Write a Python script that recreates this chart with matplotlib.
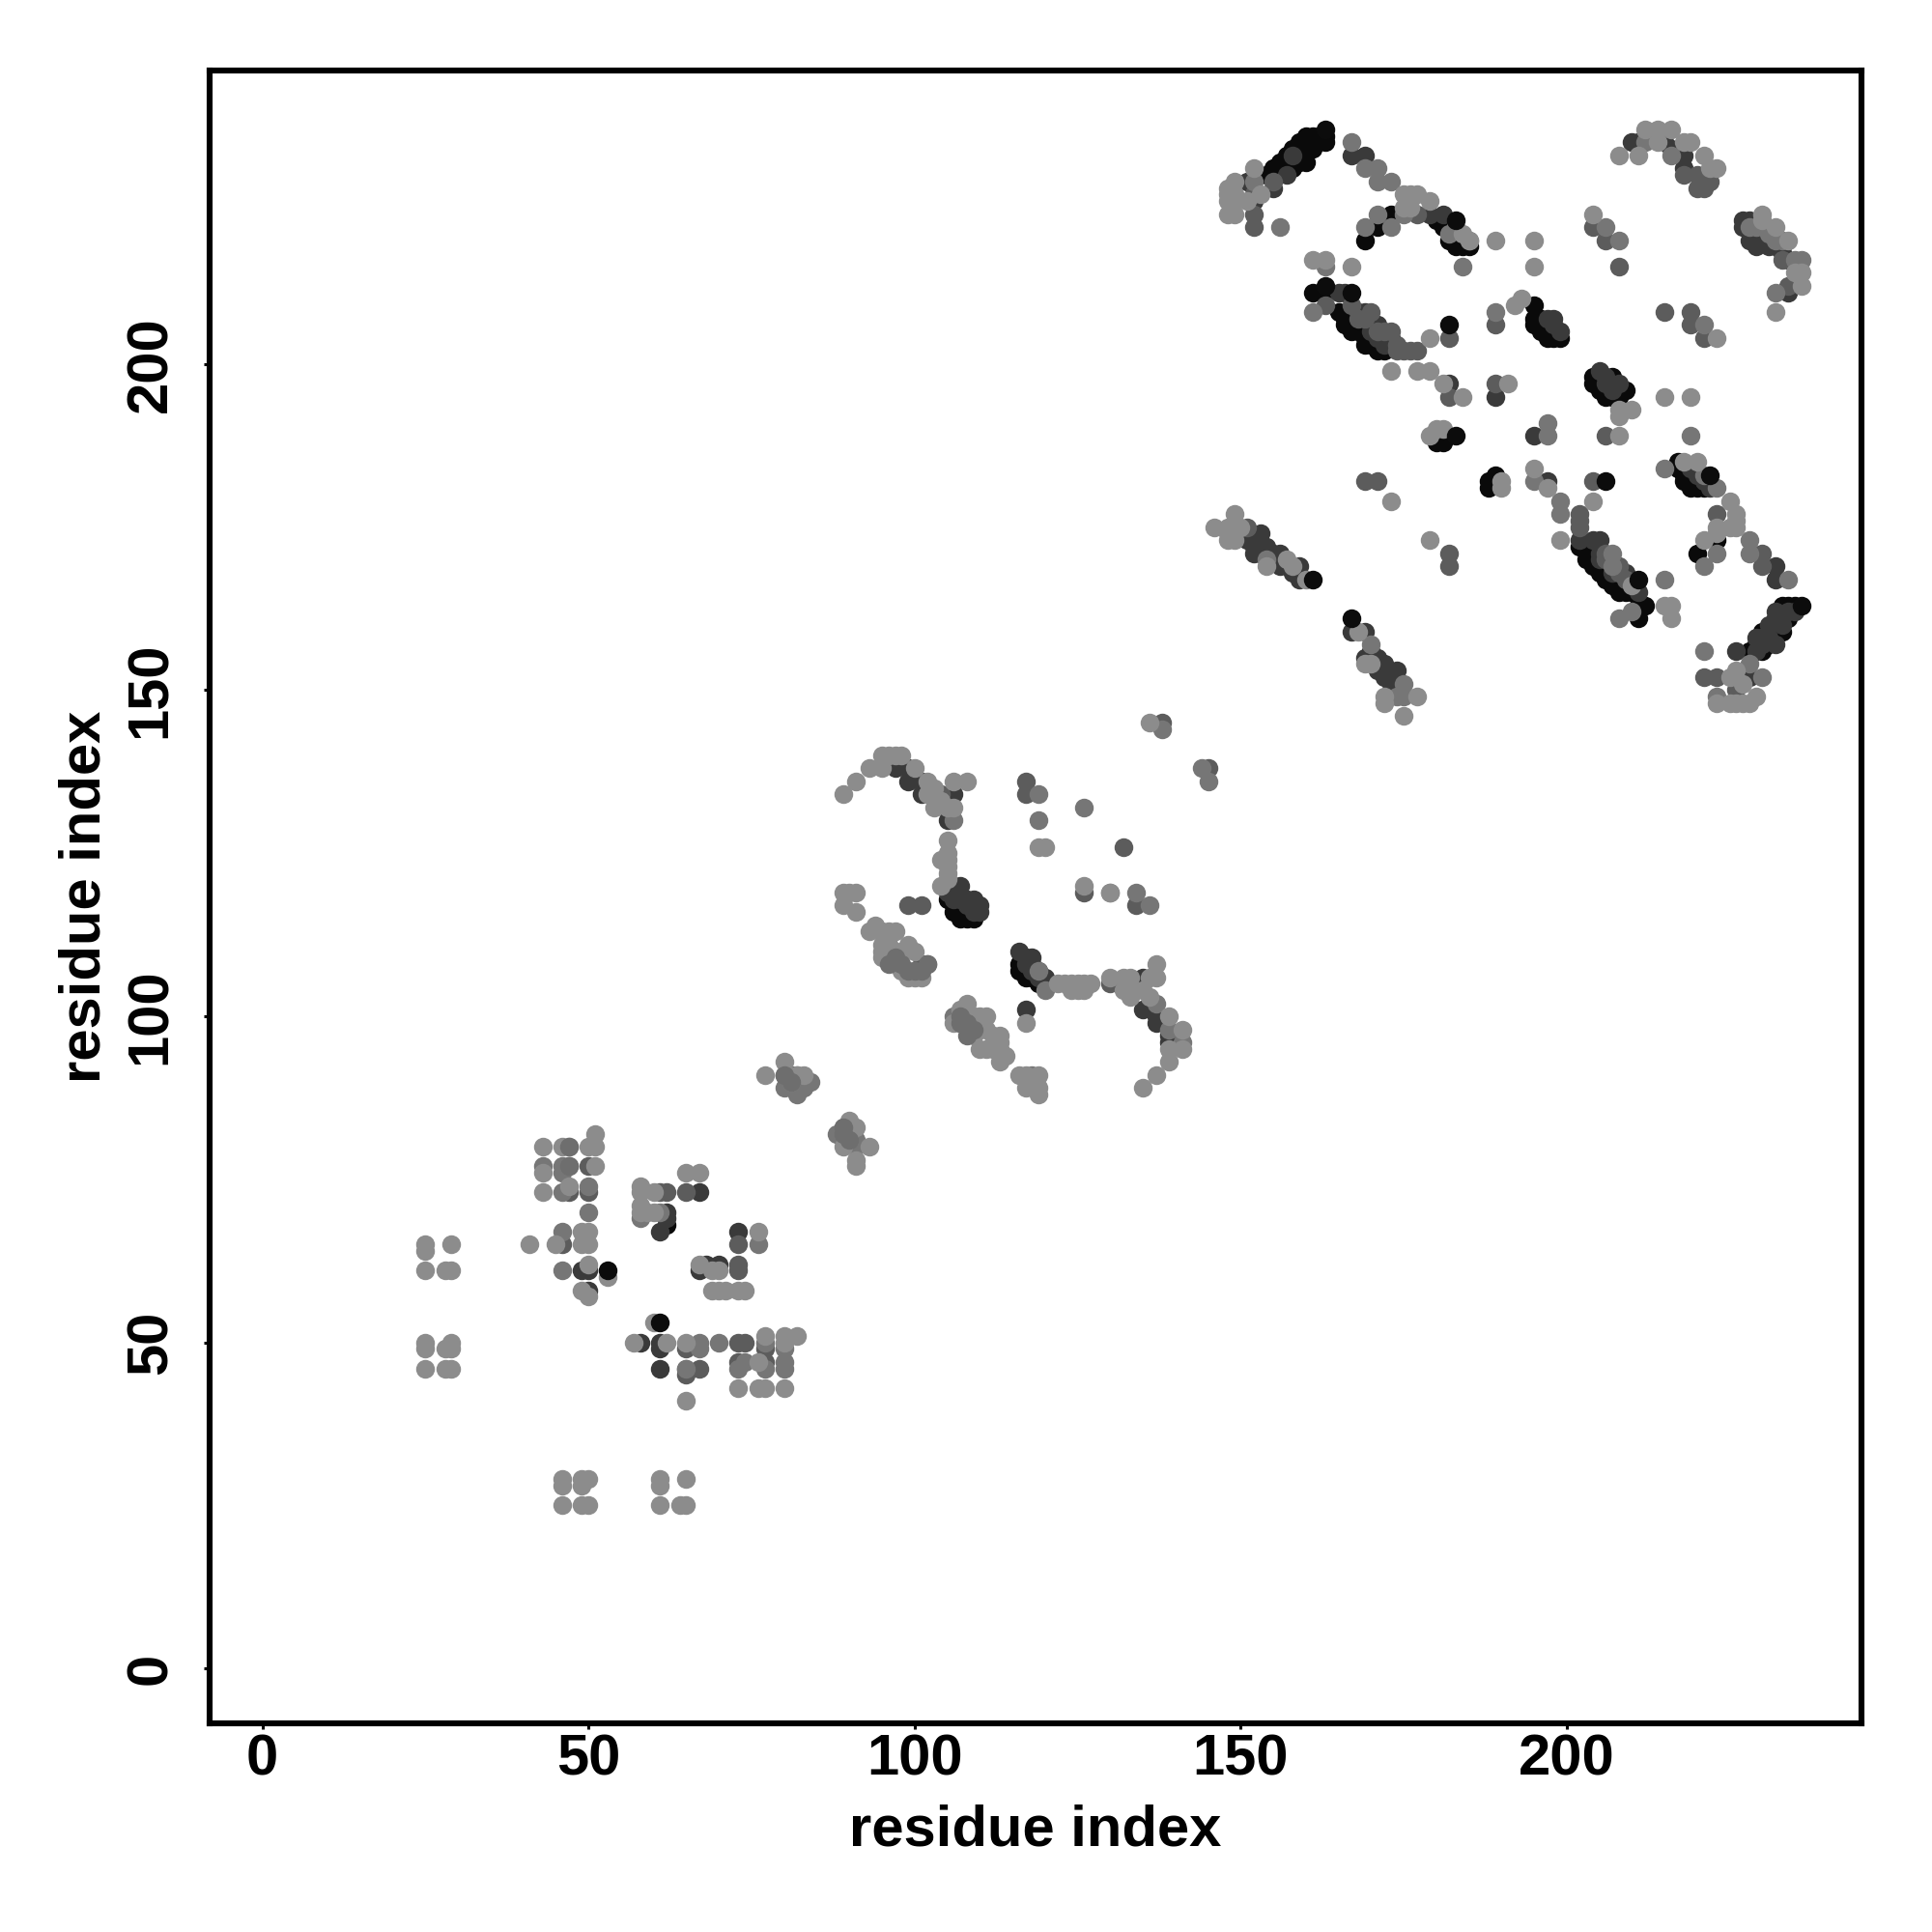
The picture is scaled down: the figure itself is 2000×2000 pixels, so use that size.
#!/usr/bin/env python3
"""Contact map of residue pairs, shaded by contact strength."""

import matplotlib
matplotlib.use("Agg")
import matplotlib.pyplot as plt

# (residue i, residue j), grouped by shade
black_under = [
    (62, 68), (160, 235), (161, 234), (161, 233), (160, 233), (155, 230), (158, 230), (159, 232), (160, 231),
    (163, 234), (163, 235), (158, 233), (157, 231), (156, 230), (157, 232), (159, 234), (162, 235), (162, 234),
    (156, 231), (154, 229), (158, 231), (159, 231), (161, 235),
    (180, 222), (181, 221), (182, 219), (184, 218), (185, 218), (183, 218),
    (171, 221), (169, 219), (173, 223),
    (161, 211), (163, 211), (166, 207), (168, 205), (170, 203), (172, 202), (167, 206), (169, 204), (171, 203),
    (165, 208), (167, 205), (169, 203), (171, 202), (166, 206),
    (195, 209), (195, 207), (195, 206), (196, 207), (197, 204), (198, 204), (197, 205), (196, 206), (196, 205),
    (197, 206), (199, 204),
    (204, 198), (204, 197), (206, 195), (207, 195), (209, 196), (207, 198), (205, 196), (205, 197), (206, 196),
    (208, 195),
    (180, 188), (181, 188), (188, 182), (188, 181), (189, 183),
    (217, 185), (217, 184), (218, 182), (220, 181), (223, 173), (220, 171), (219, 183), (221, 181), (218, 183),
    (219, 181), (220, 182),
    (202, 172), (203, 170), (205, 168), (207, 166), (208, 166), (204, 169), (206, 167), (209, 165), (204, 171),
    (206, 168), (208, 165), (210, 165),
    (211, 163), (212, 163), (211, 161), (233, 163), (235, 163), (234, 161), (232, 161), (231, 159),
    (229, 157), (228, 156), (232, 159), (233, 161), (230, 159), (233, 162), (234, 163), (233, 159), (231, 157),
    (230, 156),
    (106, 117), (106, 116), (107, 116), (108, 115), (109, 115), (105, 118), (107, 117), (108, 116), (106, 119),
    (107, 115),
    (116, 108), (118, 106), (119, 105), (117, 107), (117, 106), (116, 107),
]
dark = [
    (58, 50), (61, 50), (61, 49), (49, 61), (50, 61), (50, 58), (73, 67), (67, 73), (62, 70), (62, 69), (61, 67),
    (67, 61), (68, 62), (70, 62), (61, 46),
    (155, 227), (151, 228), (157, 229), (158, 232), (152, 225), (167, 232), (169, 232), (179, 223), (181, 223),
    (165, 211), (166, 211), (168, 208), (169, 208), (171, 206), (170, 206), (173, 204), (172, 203), (170, 205),
    (171, 204), (172, 204),
    (210, 234), (211, 234), (215, 234), (216, 233), (218, 232), (218, 230), (229, 218), (228, 219), (231, 219),
    (227, 221), (227, 222), (228, 222), (229, 220), (230, 220), (231, 218), (232, 218), (233, 218), (233, 217),
    (234, 216), (234, 211), (189, 195), (182, 197), (197, 207), (198, 206), (206, 197), (207, 196), (208, 197),
    (151, 173), (153, 174), (154, 172), (152, 171), (153, 171), (156, 171), (156, 169), (159, 169), (159, 167),
    (155, 171), (155, 170), (157, 169), (158, 168), (152, 172),
    (167, 159), (169, 159), (169, 155), (171, 155), (171, 153), (172, 154), (174, 153), (173, 151), (170, 156),
    (171, 154), (172, 152), (173, 152), (170, 155),
    (195, 189), (197, 182), (204, 173), (205, 173), (202, 173), (209, 168), (211, 165), (232, 169), (232, 167),
    (205, 171), (205, 170), (207, 168), (210, 167), (219, 184), (220, 183), (221, 182), (222, 181),
    (226, 156), (229, 158), (230, 157), (232, 157), (229, 156), (228, 152), (199, 205), (198, 207), (230, 158),
    (231, 158), (231, 160), (232, 162), (233, 160), (234, 162), (235, 162),
    (105, 119), (106, 118), (106, 120), (107, 120), (109, 118), (110, 116), (116, 110), (117, 109), (118, 109),
    (107, 118), (108, 118), (108, 117), (109, 116), (110, 117), (109, 117), (118, 108), (118, 107), (119, 106),
    (120, 106), (117, 108),
    (119, 107), (120, 105), (97, 138), (99, 138), (99, 136), (101, 136), (101, 134), (106, 134), (105, 130),
    (135, 106), (135, 101), (137, 100), (137, 99), (139, 97), (139, 96), (117, 101), (205, 199), (206, 198),
]
mid_dark = [
    (47, 77), (50, 77), (50, 73), (46, 65), (47, 73), (73, 62), (73, 61), (65, 73), (61, 73), (62, 73), (65, 46),
    (67, 46), (65, 49), (73, 50), (74, 50), (77, 49), (77, 47), (73, 47), (65, 45), (73, 65),
    (80, 91), (81, 91), (82, 90), (89, 83), (89, 81), (90, 82),
    (152, 223), (152, 221), (155, 228), (152, 226), (177, 223), (182, 204), (189, 206), (182, 195), (189, 197),
    (163, 209), (170, 208), (167, 209), (174, 202), (175, 202), (176, 202), (177, 202), (171, 205), (172, 205),
    (173, 205), (174, 203), (168, 207), (169, 207),
    (204, 221), (206, 219), (208, 215), (215, 208), (219, 208), (219, 206), (221, 204),
    (233, 216), (234, 212), (218, 229), (220, 229), (220, 227), (221, 227), (222, 228),
    (169, 182), (171, 182), (182, 171), (182, 169), (151, 175), (206, 189), (204, 182), (202, 177), (202, 176),
    (202, 175), (223, 177), (230, 171), (230, 169), (221, 152), (223, 152), (226, 150), (206, 171), (206, 170),
    (208, 168), (209, 167), (208, 169),
    (99, 117), (101, 117), (117, 136), (117, 134), (134, 117), (126, 119), (132, 126), (145, 138), (138, 145),
    (100, 107), (101, 108), (102, 108), (107, 99), (108, 100), (130, 105), (104, 134),
]
mid = [
    (46, 61), (46, 67), (73, 46), (74, 47), (77, 46), (80, 47), (80, 46), (70, 50), (77, 50), (80, 49), (61, 70),
    (46, 77), (46, 76), (43, 77), (46, 73), (50, 74), (50, 70), (58, 69), (76, 65), (67, 50), (67, 49), (65, 46),
    (82, 88), (83, 89), (84, 90), (82, 91), (88, 82), (91, 81), (91, 80), (80, 89),
    (119, 134), (119, 130), (126, 132), (130, 119), (136, 117), (134, 119), (144, 138), (145, 136), (138, 144),
    (167, 234), (169, 230), (171, 230), (171, 228), (173, 228), (175, 223), (184, 215), (185, 219), (183, 221),
    (182, 220), (171, 223), (169, 221), (173, 221), (161, 208), (189, 208), (156, 221), (152, 228), (163, 215),
    (206, 221), (208, 219), (221, 206), (216, 232), (212, 234), (232, 211), (235, 216), (236, 216), (228, 221),
    (229, 221), (231, 220), (232, 219), (233, 219),
    (154, 170), (175, 151), (174, 149), (175, 149), (170, 157), (197, 189), (195, 182), (199, 179), (199, 177),
    (207, 171), (207, 169), (210, 162), (208, 161), (215, 167), (219, 189), (215, 184), (221, 169), (223, 171),
    (221, 156), (228, 154), (230, 152), (223, 149), (228, 173), (228, 171), (234, 167), (221, 183), (223, 181),
    (197, 191), (120, 104), (119, 107), (137, 102), (139, 98), (141, 96), (118, 91), (106, 100), (106, 130),
]
light = [
    (46, 25), (49, 25), (50, 25), (46, 28), (49, 28), (46, 29), (49, 29), (50, 29),
    (61, 25), (64, 25), (65, 25), (61, 28), (61, 29), (65, 29),
    (25, 46), (28, 46), (29, 46), (25, 49), (28, 49), (29, 49), (25, 50), (29, 50),
    (25, 61), (28, 61), (29, 61), (25, 64), (25, 65), (29, 65),
    (41, 65), (45, 65), (49, 65), (50, 65), (49, 67), (50, 67), (50, 62), (49, 58), (50, 57), (53, 60),
    (43, 73), (47, 74), (43, 76), (43, 80), (46, 80), (47, 80), (50, 80), (51, 80), (51, 82), (51, 77),
    (58, 74), (58, 73), (58, 71), (58, 70), (59, 70), (60, 70), (60, 73), (65, 76), (67, 76), (76, 67),
    (67, 62), (69, 61), (70, 61), (69, 58), (70, 58), (71, 58), (73, 58), (74, 58), (60, 53), (57, 50), (62, 50),
    (65, 50), (77, 51), (80, 51), (80, 50), (82, 51), (76, 47), (73, 43), (76, 43), (77, 43), (80, 43), (65, 41),
    (77, 91), (80, 93), (81, 90), (82, 91), (83, 91), (90, 84), (91, 83), (90, 82), (93, 80), (91, 77), (91, 78),
    (89, 80), (89, 134), (91, 136), (93, 138), (95, 138), (95, 140), (96, 140), (97, 140), (98, 140), (100, 138),
    (102, 136), (102, 134), (103, 135), (104, 133), (103, 132), (105, 132), (106, 132), (106, 136), (108, 136),
    (105, 127), (105, 125), (105, 124), (105, 123), (105, 122), (105, 121), (104, 124), (104, 120),
    (89, 119), (90, 119), (91, 119), (89, 117), (91, 116), (93, 113), (94, 114), (95, 113), (96, 113), (97, 113),
    (95, 111), (95, 110), (95, 109), (96, 111), (97, 110), (98, 110), (99, 111), (100, 110), (97, 108), (98, 107),
    (99, 106), (100, 106), (101, 106), (108, 102), (106, 99), (107, 101), (109, 100), (110, 100), (111, 100),
    (110, 98), (111, 98), (112, 97), (113, 97), (113, 96), (113, 95), (110, 95), (111, 95), (112, 95), (114, 94),
    (113, 93), (109, 97), (116, 91), (117, 91), (119, 91), (117, 89), (119, 89), (119, 88), (117, 99), (119, 126),
    (120, 126), (126, 120), (122, 105), (123, 105), (124, 105), (125, 105), (126, 105), (127, 105), (124, 104),
    (125, 104), (126, 104), (130, 106), (132, 106), (133, 106), (136, 106), (137, 106), (137, 108), (133, 104),
    (132, 104), (133, 103), (135, 104), (136, 103), (139, 100), (139, 95), (141, 98), (141, 95), (139, 93),
    (137, 91), (135, 89), (136, 145), (130, 119), (152, 230), (149, 228), (148, 227), (148, 226), (148, 225),
    (149, 226), (149, 225), (148, 223), (149, 223), (153, 226), (151, 225), (175, 226), (176, 226), (177, 226),
    (175, 224), (176, 224), (179, 225), (184, 220), (185, 219), (189, 219), (161, 216), (163, 216), (167, 215),
    (173, 199), (177, 199), (179, 199), (179, 204), (181, 197), (184, 195), (191, 197),
    (208, 232), (211, 232), (212, 236), (214, 236), (216, 236), (214, 234), (218, 234), (219, 234), (221, 232),
    (222, 230), (223, 230), (230, 223), (230, 222), (232, 221), (234, 219), (235, 214), (236, 214), (236, 212),
    (232, 208), (195, 219), (195, 215), (204, 223), (223, 204), (193, 210), (192, 209), (215, 195), (219, 195),
    (210, 193), (208, 193), (208, 192), (146, 175), (149, 177), (148, 175), (148, 174), (148, 173), (149, 173),
    (150, 175), (154, 169), (157, 170), (158, 169), (160, 167), (173, 179), (179, 173), (180, 190), (181, 190),
    (179, 189), (190, 182), (190, 181), (168, 159), (169, 154), (172, 149), (172, 148), (177, 149), (175, 146),
    (170, 154), (195, 184), (197, 181), (199, 173), (204, 179), (208, 189), (210, 166), (215, 163), (216, 163),
    (216, 161), (218, 185), (220, 185), (225, 179), (223, 175), (223, 174), (226, 177), (226, 176), (226, 175),
    (225, 175), (221, 173), (225, 152), (226, 153), (227, 151), (229, 149), (228, 148), (223, 148), (225, 148),
    (226, 148), (227, 148),
]
mid_top = [
    (100, 107), (101, 107), (102, 108), (99, 107), (97, 109), (98, 108), (96, 108), (107, 100), (107, 99),
    (108, 99), (109, 98), (108, 97), (81, 90), (80, 91), (89, 82), (89, 83), (90, 81), (47, 80), (47, 77),
]
black_top = [
    (53, 61), (61, 53), (183, 222), (163, 236), (163, 212), (167, 211), (182, 206), (161, 167), (183, 189),
    (206, 182), (167, 161), (211, 167), (222, 183), (236, 163),
]

ticks = [0, 50, 100, 150, 200]
axis_label = "residue index"

shade_groups = [
    (black_under, "#0a0a0a"),
    (dark, "#3a3a3a"),
    (mid_dark, "#5c5c5c"),
    (mid, "#767676"),
    (light, "#8c8c8c"),
    (mid_top, "#6e6e6e"),
    (black_top, "#0c0c0c"),
]

plt.rcParams["font.family"] = ["Liberation Sans", "DejaVu Sans"]
plt.rcParams["font.weight"] = "bold"

fig = plt.figure(figsize=(10, 10), dpi=200)
ax = fig.add_axes([217 / 2000, 1 - 1784 / 2000, (1927 - 217) / 2000, (1784 - 73) / 2000])

for contacts, color in shade_groups:
    xs = [c[0] for c in contacts]
    ys = [c[1] for c in contacts]
    ax.scatter(xs, ys, s=49, color=color, linewidths=0, clip_on=False)

ax.set_xlim(-8.1, 245.2)
ax.set_ylim(-8.4, 245.0)
ax.set_xticks(ticks)
ax.set_yticks(ticks)
ax.tick_params(axis="both", length=2.3, width=1.1, labelsize=21.5)
ax.tick_params(axis="x", pad=1.5)
ax.tick_params(axis="y", pad=9.5)
for label in ax.get_yticklabels():
    label.set_rotation(90)
    label.set_va("center")
ax.set_xlabel(axis_label, fontsize=21.5, fontweight="bold", labelpad=6.3)
ax.set_ylabel(axis_label, fontsize=21.5, fontweight="bold", labelpad=5)
for spine in ax.spines.values():
    spine.set_linewidth(2.2)

fig.savefig("out.png", dpi=200)
